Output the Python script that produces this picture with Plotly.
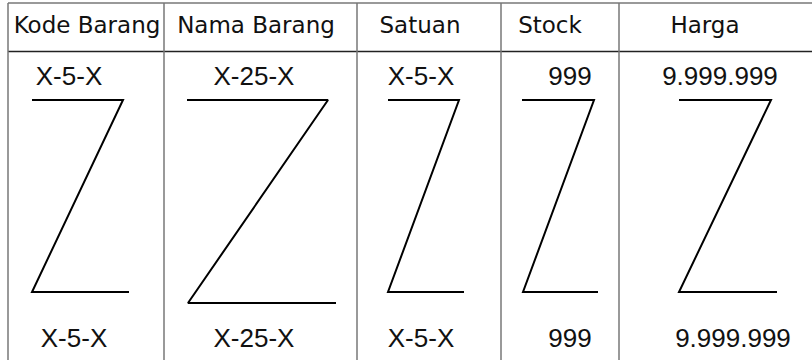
import plotly.graph_objects as go

# ---- content ----
headers = ["Kode Barang", "Nama Barang", "Satuan", "Stock", "Harga"]
top_labels = ["X-5-X", "X-25-X", "X-5-X", "999", "9.999.999"]
bottom_labels = ["X-5-X", "X-25-X", "X-5-X", "999", "9.999.999"]

# ---- geometry (pixel-like units of the drawing) ----
col_edges = [8, 164, 357, 501, 619]
header_x = [87, 256, 420, 550, 705]
top_x = [69, 254, 421, 570, 720]
bottom_x = [74, 254, 421, 570, 733]
z_top_left = [32, 187, 388, 522, 679]
z_top_right = [123, 328, 459, 594, 771]
z_bot_left = [32, 188, 388, 523, 679]
z_bot_right = [129, 336, 464, 598, 777]
z_top_y = [100, 100, 100, 100, 100]
z_bot_y = [292, 303, 292, 292, 292]

W, H = 812, 360
fig = go.Figure()

for i in range(len(headers)):
    fig.add_trace(go.Scatter(
        x=[z_top_left[i], z_top_right[i], z_bot_left[i], z_bot_right[i]],
        y=[z_top_y[i], z_top_y[i], z_bot_y[i], z_bot_y[i]],
        mode="lines", line=dict(color="black", width=2),
        hoverinfo="skip", showlegend=False))

fig.add_trace(go.Scatter(x=header_x, y=[27] * 5, text=headers, mode="text",
                         textfont=dict(family="DejaVu Sans", size=23, color="#111"),
                         showlegend=False, hoverinfo="skip"))
fig.add_trace(go.Scatter(x=top_x, y=[78] * 5, text=top_labels, mode="text",
                         textfont=dict(family="Liberation Sans", size=26, color="#111"),
                         showlegend=False, hoverinfo="skip"))
fig.add_trace(go.Scatter(x=bottom_x, y=[340] * 5, text=bottom_labels, mode="text",
                         textfont=dict(family="Liberation Sans", size=26, color="#111"),
                         showlegend=False, hoverinfo="skip"))

shapes = [
    dict(type="line", x0=8, x1=W, y0=3, y1=3, line=dict(color="#777", width=1.5)),
    dict(type="line", x0=8, x1=W, y0=51.5, y1=51.5, line=dict(color="#222", width=1.5)),
]
for e in col_edges:
    shapes.append(dict(type="line", x0=e, x1=e, y0=3, y1=H,
                       line=dict(color="#777", width=1.5)))

fig.update_layout(
    width=W, height=H, margin=dict(l=0, r=0, t=0, b=0),
    paper_bgcolor="white", plot_bgcolor="white",
    xaxis=dict(range=[0, W], visible=False, fixedrange=True),
    yaxis=dict(range=[H, 0], visible=False, fixedrange=True),
    shapes=shapes,
)
fig.write_html("out.html", config={"displayModeBar": False},
               post_script="document.body.style.margin='0';document.body.style.overflow='hidden';")
